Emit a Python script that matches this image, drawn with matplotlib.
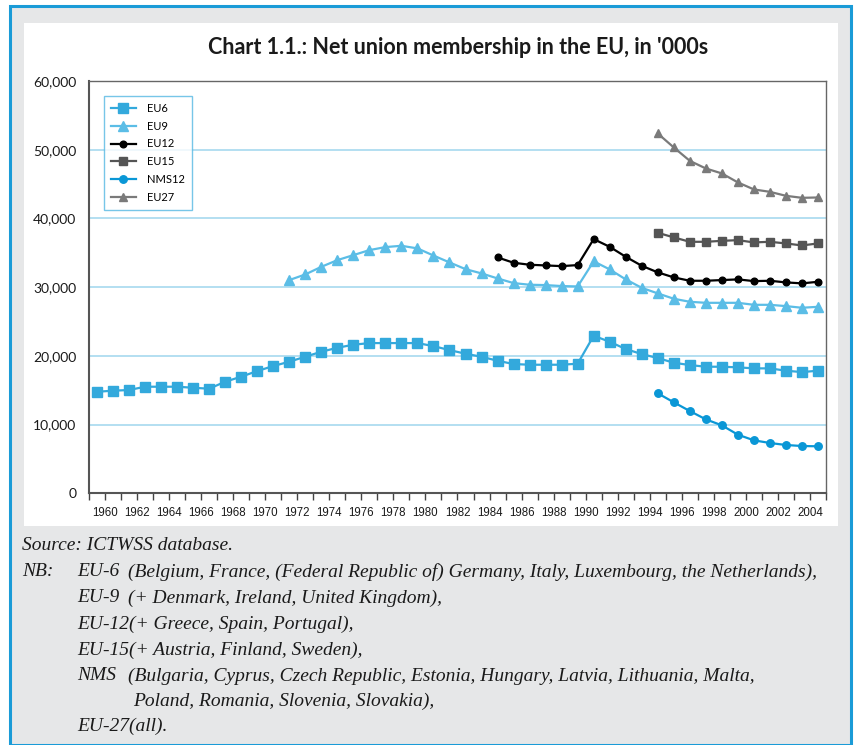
import matplotlib
matplotlib.use('Agg')
import matplotlib.pyplot as plt
from matplotlib.patches import Rectangle
from matplotlib.ticker import FuncFormatter
import numpy as np

# net union membership, '000s
years = list(range(1960, 2006))
eu6 = [14780, 14930, 15030, 15510, 15510, 15510, 15360, 15220, 16240, 16970,
       17790, 18520, 19150, 19880, 20600, 21180, 21620, 21860, 21860, 21860,
       21860, 21420, 20840, 20310, 19870, 19290, 18810, 18710, 18710, 18710,
       18860, 22930, 22050, 20990, 20260, 19680, 19000, 18660, 18420, 18420,
       18330, 18180, 18180, 17840, 17640, 17840]
eu9_years = list(range(1972, 2006))
eu9 = [31030, 31850, 32960, 33930, 34660, 35390, 35830, 36020, 35640, 34600,
       33600, 32620, 32000, 31270, 30590, 30350, 30300, 30160, 30100, 33760,
       32580, 31130, 29900, 29090, 28310, 27870, 27720, 27720, 27720, 27430,
       27430, 27240, 27000, 27140]
eu12_years = list(range(1985, 2006))
eu12 = [34330, 33550, 33260, 33160, 33060, 33210, 36990, 35870, 34420, 33110,
        32150, 31420, 30930, 30930, 31030, 31130, 30880, 30930, 30690, 30550,
        30780]
late_years = list(range(1995, 2006))
eu15 = [37910, 37240, 36600, 36600, 36740, 36840, 36510, 36600, 36360, 36070, 36360]
nms12 = [14550, 13240, 11970, 10760, 9890, 8530, 7710, 7320, 7030, 6880, 6840]
eu27 = [52360, 50330, 48380, 47270, 46550, 45240, 44220, 43870, 43290, 43000, 43050]

label_years = list(range(1960, 2005, 2))

W, H = 856, 745
fig = plt.figure(figsize=(W / 100, H / 100), dpi=100)
fig.patch.set_facecolor('white')

def px(x, y):
    return x / W, 1 - y / H

# grey box with blue frame, white chart panel inside
x0, y0 = px(10, 745)
fig.patches.append(Rectangle((x0, y0), (851 - 10) / W, (745 - 6) / H, transform=fig.transFigure,
                             facecolor='#e6e7e8', edgecolor='#1a9bd7', linewidth=2.2, zorder=0))
x0, y0 = px(24, 526)
fig.patches.append(Rectangle((x0, y0), (838 - 24) / W, (526 - 23) / H, transform=fig.transFigure,
                             facecolor='white', edgecolor='none', zorder=1))

fig.text(458 / W, 1 - 47 / H, "Chart 1.1.: Net union membership in the EU, in '000s",
         ha='center', va='center', fontsize=15.5, fontweight='bold', family='Lato', color='#1a1a1a')

ax = fig.add_axes([89 / W, 1 - 493.3 / H, (826 - 89) / W, (493.3 - 81) / H])
ax.set_zorder(2)
ax.set_facecolor('white')

ax.plot(years, eu6, '-s', color='#33a9dc', lw=1.6, ms=7.0, label='EU6')
ax.plot(eu9_years, eu9, '-^', color='#5bbde6', lw=1.6, ms=6.5, label='EU9')
ax.plot(eu12_years, eu12, '-o', color='black', lw=1.6, ms=4.8, label='EU12')
ax.plot(late_years, eu15, '-s', color='#555555', lw=1.6, ms=5.5, label='EU15')
ax.plot(late_years, nms12, '-o', color='#0a97d6', lw=1.6, ms=5.4, label='NMS12')
ax.plot(late_years, eu27, '-^', color='#7a7a7a', lw=1.6, ms=6.0, label='EU27')

ax.set_xlim(1959.5, 2005.5)
ax.set_ylim(0, 60000)
ax.set_yticks(range(0, 60001, 10000))
ax.yaxis.set_major_formatter(FuncFormatter(lambda v, p: f'{int(v):,}'))
ax.grid(axis='y', color='#9fd6ee', lw=1.1)
ax.set_axisbelow(True)

# year ticks sit on category boundaries, labels every second year
ax.set_xticks([y + 0.5 for y in label_years])
ax.set_xticklabels([str(y) for y in label_years])
ax.set_xticks([y - 0.5 for y in years] + [2005.5], minor=True)
ax.tick_params(axis='x', which='major', length=5, width=1, color='#444444', direction='out', pad=5)
ax.tick_params(axis='x', which='minor', length=5, width=1, color='#444444', direction='out')
ax.tick_params(axis='y', length=0, pad=9)
for t in ax.get_xticklabels():
    t.set_family('Liberation Sans')
    t.set_fontsize(8.3)
    t.set_color('#1a1a1a')
for t in ax.get_yticklabels():
    t.set_family('Lato')
    t.set_fontsize(10)
    t.set_color('#1a1a1a')

for side in ['left', 'bottom']:
    ax.spines[side].set_color('#555555')
    ax.spines[side].set_linewidth(1.5)
for side in ['top', 'right']:
    ax.spines[side].set_color('#666666')
    ax.spines[side].set_linewidth(1.0)

leg = ax.legend(loc='upper left', bbox_to_anchor=((104 - 89) / 737, 1 - (96 - 81) / 412.3),
                borderaxespad=0, prop={'family': 'Lato', 'size': 8}, frameon=True, fancybox=False,
                handlelength=2.3, handletextpad=1.0, labelspacing=0.62, borderpad=0.6)
leg.get_frame().set_edgecolor('#55b8e3')
leg.get_frame().set_linewidth(1.0)

# source and notes
note_kw = dict(family='Liberation Serif', style='italic', fontsize=14, color='#1a1a1a', va='center')
fig.text(22 / W, 1 - 546 / H, 'Source: ICTWSS database.', **note_kw)
fig.text(22 / W, 1 - 572 / H, 'NB:', **note_kw)
notes = [
    (572, 'EU-6', '(Belgium, France, (Federal Republic of) Germany, Italy, Luxembourg, the Netherlands),'),
    (598, 'EU-9', '(+ Denmark, Ireland, United Kingdom),'),
    (624, 'EU-12(+ Greece, Spain, Portugal),', ''),
    (650, 'EU-15(+ Austria, Finland, Sweden),', ''),
    (676, 'NMS', '(Bulgaria, Cyprus, Czech Republic, Estonia, Hungary, Latvia, Lithuania, Malta,'),
    (726, 'EU-27(all).', ''),
]
for yy, a, b in notes:
    fig.text(77 / W, 1 - yy / H, a, **note_kw)
    if b:
        fig.text(128 / W, 1 - yy / H, b, **note_kw)
fig.text(133 / W, 1 - 701 / H, 'Poland, Romania, Slovenia, Slovakia),', **note_kw)

fig.savefig('out.png', dpi=100, facecolor=fig.get_facecolor())
